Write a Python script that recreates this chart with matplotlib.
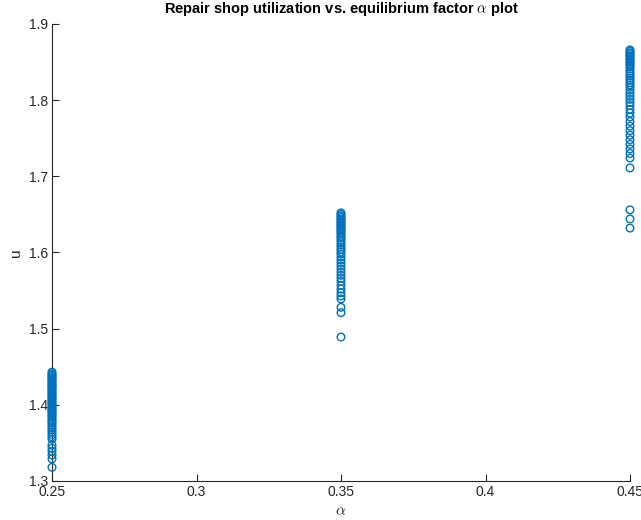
import matplotlib
matplotlib.use("Agg")
import matplotlib.pyplot as plt

plt.rcParams['font.family'] = ['Liberation Sans', 'DejaVu Sans']
plt.rcParams['mathtext.fontset'] = 'cm'

alpha_levels = [0.25, 0.35, 0.45]
u_025 = [1.443, 1.441, 1.439, 1.437, 1.436, 1.434, 1.432, 1.430, 1.428, 1.426, 1.425, 1.423,
         1.421, 1.419, 1.417, 1.415, 1.413, 1.411, 1.409, 1.407, 1.405, 1.403, 1.401, 1.399,
         1.397, 1.395, 1.393, 1.391, 1.389, 1.387, 1.385, 1.383, 1.380, 1.378, 1.376, 1.373,
         1.370, 1.367, 1.364, 1.361, 1.358, 1.355, 1.347, 1.343, 1.339, 1.334, 1.329, 1.318]
u_035 = [1.652, 1.650, 1.648, 1.646, 1.644, 1.642, 1.640, 1.638, 1.636, 1.634, 1.632, 1.630,
         1.628, 1.626, 1.624, 1.621, 1.619, 1.616, 1.613, 1.610, 1.607, 1.604, 1.601, 1.598,
         1.594, 1.590, 1.586, 1.582, 1.578, 1.574, 1.570, 1.566, 1.562, 1.557, 1.552, 1.547,
         1.543, 1.539, 1.528, 1.521, 1.489]
u_045 = [1.866, 1.864, 1.862, 1.860, 1.858, 1.856, 1.854, 1.852, 1.850, 1.848, 1.846, 1.844,
         1.841, 1.838, 1.835, 1.832, 1.829, 1.826, 1.823, 1.820, 1.817, 1.813, 1.809, 1.805,
         1.801, 1.797, 1.793, 1.788, 1.783, 1.778, 1.772, 1.766, 1.760, 1.754, 1.748, 1.742,
         1.736, 1.730, 1.724, 1.711, 1.656, 1.644, 1.632]
series = [u_025, u_035, u_045]

xticks = [0.25, 0.3, 0.35, 0.4, 0.45]
xticklabels = ['0.25', '0.3', '0.35', '0.4', '0.45']
yticks = [1.3, 1.4, 1.5, 1.6, 1.7, 1.8, 1.9]
yticklabels = ['1.3', '1.4', '1.5', '1.6', '1.7', '1.8', '1.9']

fig = plt.figure(figsize=(6.41, 5.2), dpi=100)
ax = fig.add_axes([52/641, 39/520, 578/641, 457/520])

color = '#0072BD'
for a, vals in zip(alpha_levels, series):
    ax.scatter([a]*len(vals), vals, s=30, facecolors='none', edgecolors=color,
               linewidths=1.0, clip_on=False, zorder=3)

ax.set_xlim(0.25, 0.45)
ax.set_ylim(1.3, 1.9)
ax.set_xticks(xticks)
ax.set_xticklabels(xticklabels)
ax.set_yticks(yticks)
ax.set_yticklabels(yticklabels)
for s in ['top', 'right']:
    ax.spines[s].set_visible(False)
for s in ['left', 'bottom']:
    ax.spines[s].set_color('#262626')
    ax.spines[s].set_linewidth(0.8)
ax.tick_params(direction='in', length=5, width=0.8, labelsize=10, colors='#262626', pad=3)

ax.set_title(r'Repair shop utilization vs. equilibrium factor $\alpha$ plot',
             fontsize=10.5, fontweight='bold', pad=8)
ax.set_xlabel(r'$\alpha$', fontsize=11, color='#262626')
ax.set_ylabel('u', fontsize=11, color='#262626')

fig.savefig('out.png', dpi=100)
